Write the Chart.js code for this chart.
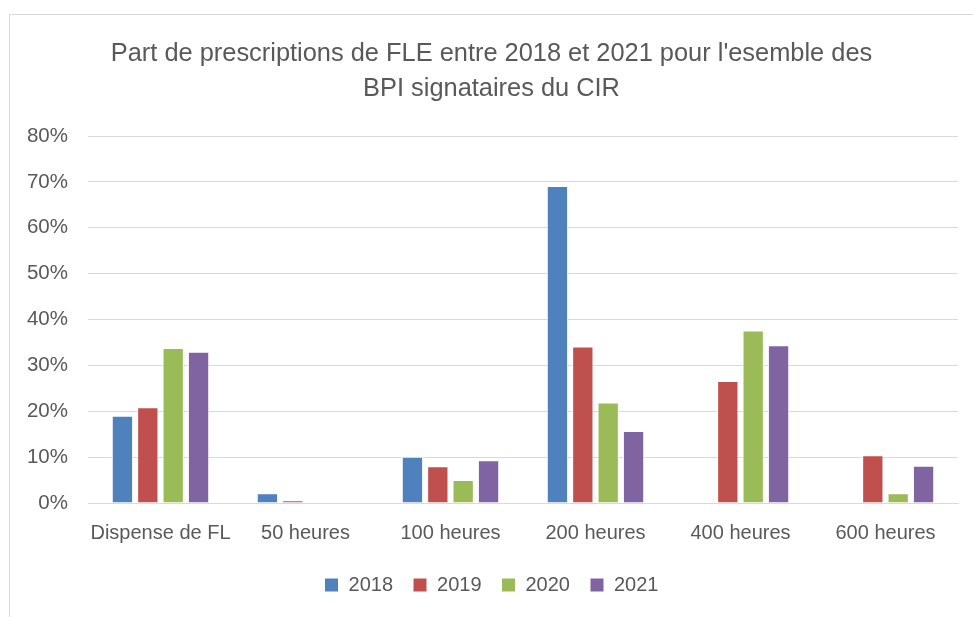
<!DOCTYPE html>
<html><head><meta charset="utf-8">
<script src="https://cdn.jsdelivr.net/npm/chart.js@4/dist/chart.umd.min.js"></script>
<style>
html,body{margin:0;padding:0;background:#fff;overflow:hidden}
#box{position:absolute;left:9px;top:14px;width:964px;height:603px;border-left:1px solid #d9d9d9;border-top:1px solid #d9d9d9}
#box canvas{display:block}
</style></head><body>
<div id="box"><canvas id="c" width="963" height="602"></canvas></div>
<script>
'use strict';
const CATS=['Dispense de FL','50 heures','100 heures','200 heures','400 heures','600 heures'];
const Y2018=[19.0,2.1,10.1,69.1,0,0];
const Y2019=[20.9,0.6,8.0,34.1,26.6,10.4];
const Y2020=[33.8,0,5.0,21.9,37.6,2.1];
const Y2021=[33.0,0,9.3,15.7,34.4,8.1];
const TITLE=["Part de prescriptions de FLE entre 2018 et 2021 pour l'esemble des",'BPI signataires du CIR'];
const TXT='#595959',GRID='#d9d9d9',FONT="'Liberation Sans',sans-serif";
const ds=(label,data,color)=>({label,data,backgroundColor:color,borderColor:'#fff',borderWidth:1,barPercentage:0.84,categoryPercentage:0.70});
new Chart(document.getElementById('c'),{
  type:'bar',
  data:{labels:CATS,datasets:[ds('2018',Y2018,'#4f81bd'),ds('2019',Y2019,'#c0504d'),ds('2020',Y2020,'#9bbb59'),ds('2021',Y2021,'#8064a2')]},
  options:{responsive:false,animation:false,
    layout:{padding:{left:15,right:15,top:18,bottom:12}},
    plugins:{
      title:{display:true,text:TITLE,color:TXT,font:{family:FONT,size:25.4,weight:'normal',lineHeight:1.4},padding:{top:3,bottom:29}},
      legend:{position:'bottom',labels:{color:TXT,font:{family:FONT,size:20},boxWidth:14,boxHeight:14,padding:20}},
      tooltip:{enabled:false}
    },
    scales:{
      x:{grid:{display:false},border:{color:GRID},ticks:{color:TXT,font:{family:FONT,size:20},padding:10,maxRotation:0,minRotation:0,autoSkip:false}},
      y:{min:0,max:80,grid:{color:GRID,drawTicks:false},border:{display:false},
         ticks:{stepSize:10,color:TXT,font:{family:FONT,size:20.5},padding:20,callback:v=>v+'%'},
         afterFit:s=>{s.width=63}}
    }
  }
});
</script></body></html>
